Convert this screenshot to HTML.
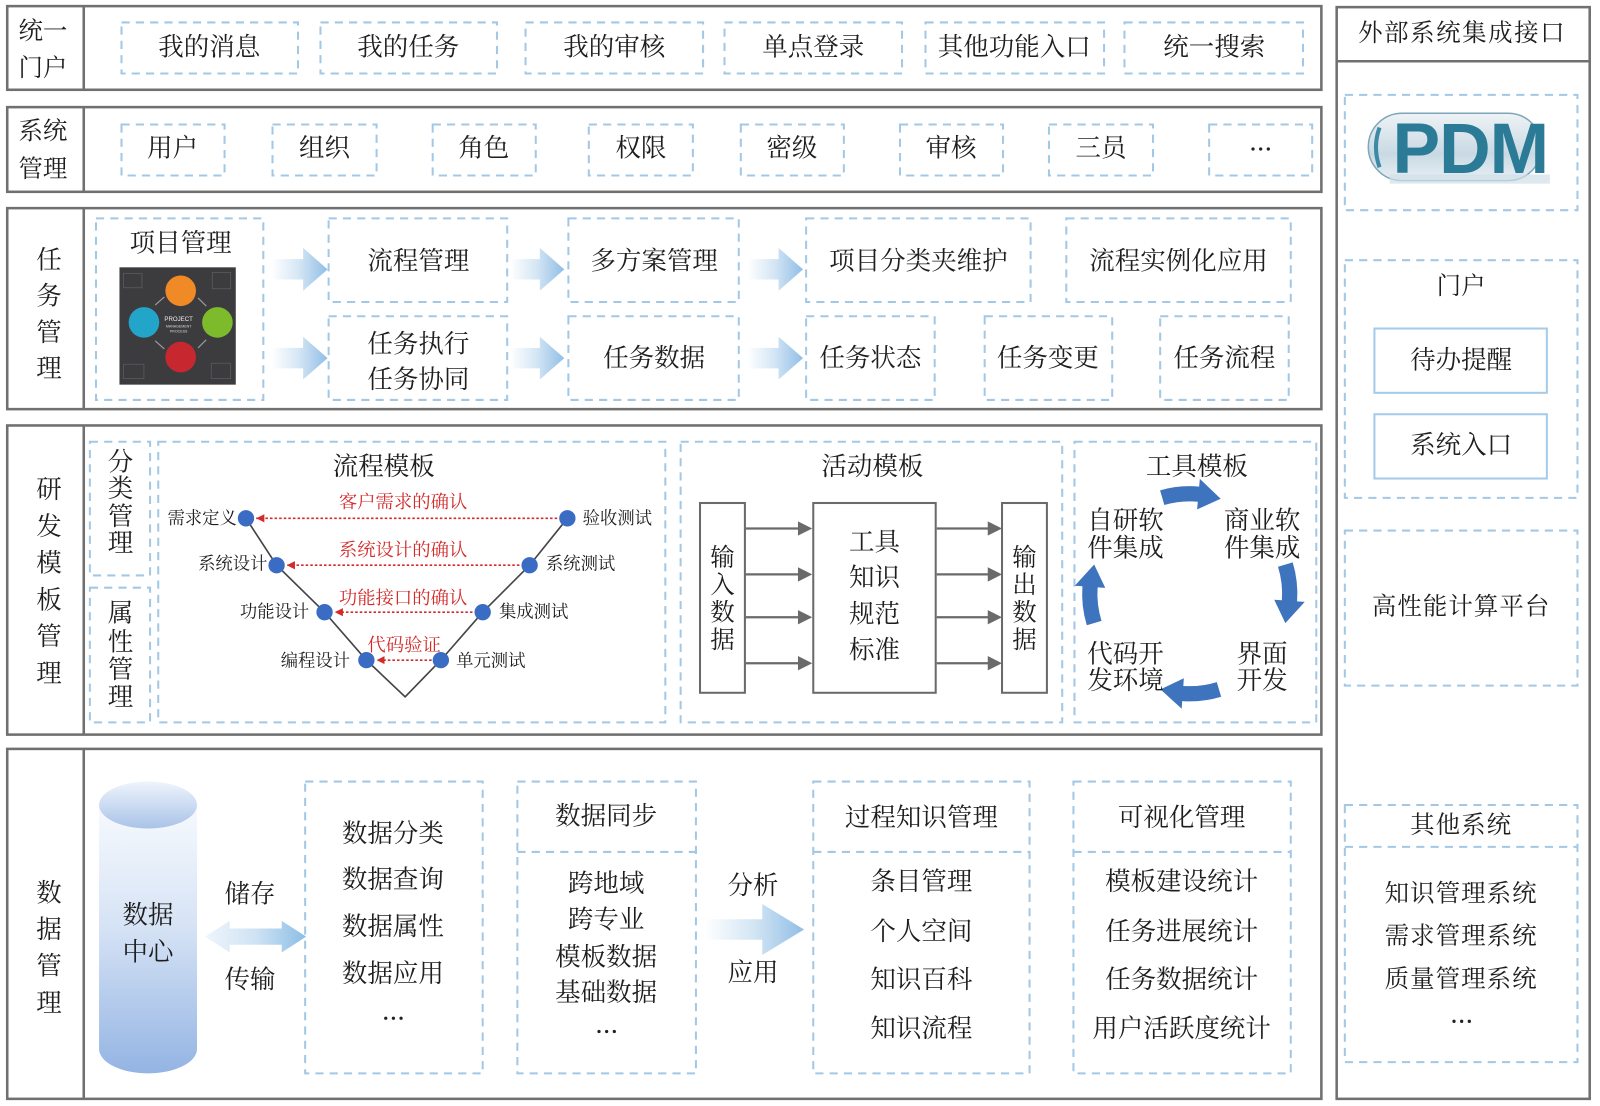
<!DOCTYPE html>
<html><head><meta charset="utf-8">
<style>
html,body{margin:0;padding:0;background:#fff;}
svg{display:block;}
text{font-family:"Liberation Serif","Noto Serif CJK SC",serif;fill:#1e1e1e;dominant-baseline:central;text-anchor:middle;}
.d{fill:none;stroke:#a3c8e6;stroke-width:2;stroke-dasharray:8 6;}
.o{fill:#fff;stroke:#707070;stroke-width:2.5;}
.t{font-size:25px;}
.s{font-size:24px;}
.v{font-size:17px;}
.r{font-size:18px;fill:#d42a2a;}
.g{fill:none;stroke:#6a6a6a;stroke-width:2;}
</style></head><body>
<svg width="1600" height="1106" viewBox="0 0 1568 1084" xmlns="http://www.w3.org/2000/svg">
<defs>
<linearGradient id="ga" x1="0" y1="0" x2="1" y2="0">
<stop offset="0" stop-color="#ffffff"/><stop offset="0.5" stop-color="#d3e5f4"/><stop offset="1" stop-color="#90bee6"/>
</linearGradient>
<linearGradient id="gb" x1="0" y1="0" x2="1" y2="0">
<stop offset="0" stop-color="#eef5fc"/><stop offset="0.5" stop-color="#cfe3f4"/><stop offset="1" stop-color="#8cbde6"/>
</linearGradient>
<linearGradient id="cyl" x1="0" y1="0" x2="0" y2="1">
<stop offset="0" stop-color="#f7fafe"/><stop offset="0.45" stop-color="#d6e3f5"/><stop offset="1" stop-color="#94b4e3"/>
</linearGradient>
<linearGradient id="cylt" x1="0" y1="0" x2="0" y2="1">
<stop offset="0" stop-color="#eef4fb"/><stop offset="1" stop-color="#a9c3e8"/>
</linearGradient>
<linearGradient id="pill" x1="0" y1="0" x2="0" y2="1">
<stop offset="0" stop-color="#eef3f6"/><stop offset="0.6" stop-color="#c9d9e3"/><stop offset="1" stop-color="#e8eff3"/>
</linearGradient>
<marker id="ra" viewBox="0 0 8 8" refX="8" refY="4" markerWidth="8" markerHeight="8" markerUnits="userSpaceOnUse" orient="auto">
<path d="M0,0 L8,4 L0,8 Z" fill="#d42a2a"/>
</marker>
</defs>

<!-- Row 1 统一门户 -->
<rect class="o" x="7" y="6" width="1288" height="82"/>
<line x1="82" y1="6" x2="82" y2="88" stroke="#707070" stroke-width="2.5"/>
<text class="s" x="42" y="31">统一</text>
<text class="s" x="42" y="67">门户</text>
<rect class="d" x="119" y="22" width="173" height="50"/>
<rect class="d" x="314" y="22" width="173" height="50"/>
<rect class="d" x="515" y="22" width="174" height="50"/>
<rect class="d" x="710" y="22" width="174" height="50"/>
<rect class="d" x="907" y="22" width="175" height="50"/>
<rect class="d" x="1102" y="22" width="175" height="50"/>
<text class="t" x="205" y="46">我的消息</text>
<text class="t" x="400" y="46">我的任务</text>
<text class="t" x="602" y="46">我的审核</text>
<text class="t" x="797" y="46">单点登录</text>
<text class="t" x="994" y="46">其他功能入口</text>
<text class="t" x="1190" y="46">统一搜索</text>

<!-- Row 2 系统管理 -->
<rect class="o" x="7" y="105" width="1288" height="83"/>
<line x1="82" y1="105" x2="82" y2="188" stroke="#707070" stroke-width="2.5"/>
<text class="s" x="42" y="129">系统</text>
<text class="s" x="42" y="166">管理</text>
<rect class="d" x="119" y="122" width="101" height="50"/>
<rect class="d" x="267" y="122" width="102" height="50"/>
<rect class="d" x="424" y="122" width="101" height="50"/>
<rect class="d" x="577" y="122" width="102" height="50"/>
<rect class="d" x="726" y="122" width="101" height="50"/>
<rect class="d" x="882" y="122" width="101" height="50"/>
<rect class="d" x="1028" y="122" width="102" height="50"/>
<rect class="d" x="1185" y="122" width="101" height="50"/>
<text class="t" x="169" y="145">用户</text>
<text class="t" x="318" y="145">组织</text>
<text class="t" x="474" y="145">角色</text>
<text class="t" x="628" y="145">权限</text>
<text class="t" x="776" y="145">密级</text>
<text class="t" x="932" y="145">审核</text>
<text class="t" x="1079" y="145">三员</text>
<g fill="#222"><circle cx="1228" cy="146" r="1.6"/><circle cx="1235.5" cy="146" r="1.6"/><circle cx="1243" cy="146" r="1.6"/></g>

<!-- Row 3 任务管理 -->
<rect class="o" x="7" y="204" width="1288" height="197"/>
<line x1="82" y1="204" x2="82" y2="401" stroke="#707070" stroke-width="2.5"/>
<text class="t" x="48" y="255">任</text>
<text class="t" x="48" y="290">务</text>
<text class="t" x="48" y="326">管</text>
<text class="t" x="48" y="361">理</text>
<rect class="d" x="94" y="214" width="164" height="178"/>
<text class="t" x="177" y="238">项目管理</text>
<!-- project image -->
<rect x="117" y="262" width="114" height="115" fill="#3c3c3f"/>
<g stroke="#5a5a5e" stroke-width="0.8" fill="none">
<rect x="121" y="268" width="18" height="14"/><rect x="208" y="267" width="18" height="16"/>
<rect x="121" y="357" width="20" height="14"/><rect x="207" y="356" width="19" height="15"/>
</g>
<g stroke="#9a9a9e" stroke-width="1.2" fill="none">
<path d="M152,299 L161,291"/><path d="M194,292 L202,300"/><path d="M202,333 L194,341"/><path d="M161,342 L152,334"/>
</g>
<circle cx="177" cy="285" r="15" fill="#ef8a26"/>
<circle cx="213" cy="316" r="15" fill="#7dbb2c"/>
<circle cx="177" cy="350" r="15" fill="#c7282f"/>
<circle cx="141" cy="316" r="15" fill="#22a5c8"/>
<text x="175" y="313" style="font-family:'Liberation Sans',sans-serif;font-size:6px;fill:#eee">PROJECT</text>
<text x="175" y="320" style="font-family:'Liberation Sans',sans-serif;font-size:3.5px;fill:#ddd">MANAGEMENT</text>
<text x="175" y="325" style="font-family:'Liberation Sans',sans-serif;font-size:3.5px;fill:#ddd">PROCESS</text>

<rect class="d" x="322" y="214" width="175" height="82"/>
<rect class="d" x="557" y="214" width="167" height="82"/>
<rect class="d" x="790" y="214" width="220" height="82"/>
<rect class="d" x="1045" y="214" width="220" height="82"/>
<text class="t" x="410" y="256">流程管理</text>
<text class="t" x="641" y="256">多方案管理</text>
<text class="t" x="900" y="256">项目分类夹维护</text>
<text class="t" x="1155" y="256">流程实例化应用</text>
<rect class="d" x="322" y="310" width="175" height="82"/>
<rect class="d" x="557" y="310" width="167" height="82"/>
<rect class="d" x="790" y="310" width="126" height="82"/>
<rect class="d" x="965" y="310" width="125" height="82"/>
<rect class="d" x="1137" y="310" width="126" height="82"/>
<text class="t" x="410" y="337">任务执行</text>
<text class="t" x="410" y="372">任务协同</text>
<text class="t" x="641" y="351">任务数据</text>
<text class="t" x="853" y="351">任务状态</text>
<text class="t" x="1027" y="351">任务变更</text>
<text class="t" x="1200" y="351">任务流程</text>
<g fill="url(#ga)">
<path d="M266,254 L297,254 L297,243 L321,264 L297,285 L297,274 L266,274 Z"/>
<path d="M500,254 L529,254 L529,243 L553,264 L529,285 L529,274 L500,274 Z"/>
<path d="M732,254 L763,254 L763,243 L787,264 L763,285 L763,274 L732,274 Z"/>
<path d="M266,341 L297,341 L297,330 L321,351 L297,372 L297,361 L266,361 Z"/>
<path d="M500,341 L529,341 L529,330 L553,351 L529,372 L529,361 L500,361 Z"/>
<path d="M732,341 L763,341 L763,330 L787,351 L763,372 L763,361 L732,361 Z"/>
</g>

<!-- Row 4 研发模板管理 -->
<rect class="o" x="7" y="417" width="1288" height="303"/>
<line x1="82" y1="417" x2="82" y2="720" stroke="#707070" stroke-width="2.5"/>
<text class="t" x="48" y="480">研</text>
<text class="t" x="48" y="516">发</text>
<text class="t" x="48" y="552">模</text>
<text class="t" x="48" y="588">板</text>
<text class="t" x="48" y="624">管</text>
<text class="t" x="48" y="660">理</text>
<rect class="d" x="88" y="433" width="59" height="131"/>
<rect class="d" x="88" y="576" width="59" height="132"/>
<text class="t" x="118" y="453">分</text>
<text class="t" x="118" y="479">类</text>
<text class="t" x="118" y="506">管</text>
<text class="t" x="118" y="532">理</text>
<text class="t" x="118" y="601">属</text>
<text class="t" x="118" y="629">性</text>
<text class="t" x="118" y="656">管</text>
<text class="t" x="118" y="683">理</text>

<rect class="d" x="155" y="433" width="497" height="275"/>
<text class="t" x="376" y="457">流程模板</text>
<polyline points="241,508 271,554 318,600 359,647 397,683 432,647 473,600 519,554 556,508" fill="none" stroke="#444" stroke-width="1.6"/>
<g stroke="#d42a2a" stroke-width="1.6" stroke-dasharray="2.5 2" fill="none" marker-end="url(#ra)">
<line x1="546" y1="508" x2="251" y2="508"/>
<line x1="509" y1="554" x2="281" y2="554"/>
<line x1="463" y1="600" x2="328" y2="600"/>
<line x1="423" y1="647" x2="369" y2="647"/>
</g>
<g fill="#3a6cc4">
<circle cx="241" cy="508" r="8"/><circle cx="271" cy="554" r="8"/><circle cx="318" cy="600" r="8"/><circle cx="359" cy="647" r="8"/>
<circle cx="432" cy="647" r="8"/><circle cx="473" cy="600" r="8"/><circle cx="519" cy="554" r="8"/><circle cx="556" cy="508" r="8"/>
</g>
<text class="r" x="395" y="492">客户需求的确认</text>
<text class="r" x="395" y="539">系统设计的确认</text>
<text class="r" x="395" y="586">功能接口的确认</text>
<text class="r" x="396" y="632">代码验证</text>
<g style="text-anchor:end">
<text class="v" x="232" y="508" style="text-anchor:end">需求定义</text>
<text class="v" x="262" y="553" style="text-anchor:end">系统设计</text>
<text class="v" x="303" y="600" style="text-anchor:end">功能设计</text>
<text class="v" x="343" y="648" style="text-anchor:end">编程设计</text>
</g>
<text class="v" x="571" y="508" style="text-anchor:start">验收测试</text>
<text class="v" x="535" y="553" style="text-anchor:start">系统测试</text>
<text class="v" x="489" y="600" style="text-anchor:start">集成测试</text>
<text class="v" x="447" y="648" style="text-anchor:start">单元测试</text>

<rect class="d" x="667" y="433" width="374" height="275"/>
<text class="t" x="855" y="457">活动模板</text>
<rect class="g" x="686" y="493" width="44" height="186"/>
<rect class="g" x="797" y="493" width="120" height="186"/>
<rect class="g" x="982" y="493" width="44" height="186"/>
<text class="s" x="708" y="547">输</text>
<text class="s" x="708" y="574">入</text>
<text class="s" x="708" y="601">数</text>
<text class="s" x="708" y="628">据</text>
<text class="s" x="1004" y="547">输</text>
<text class="s" x="1004" y="574">出</text>
<text class="s" x="1004" y="601">数</text>
<text class="s" x="1004" y="628">据</text>
<text class="t" x="857" y="531">工具</text>
<text class="t" x="857" y="566">知识</text>
<text class="t" x="857" y="602">规范</text>
<text class="t" x="857" y="637">标准</text>
<g stroke="#6a6a6a" stroke-width="2.2">
<line x1="731" y1="518" x2="784" y2="518"/><line x1="731" y1="563" x2="784" y2="563"/>
<line x1="731" y1="605" x2="784" y2="605"/><line x1="731" y1="650" x2="784" y2="650"/>
<line x1="918" y1="518" x2="970" y2="518"/><line x1="918" y1="563" x2="970" y2="563"/>
<line x1="918" y1="605" x2="970" y2="605"/><line x1="918" y1="650" x2="970" y2="650"/>
</g>
<g fill="#6a6a6a">
<path d="M782,511 L796,518 L782,525 Z"/><path d="M782,556 L796,563 L782,570 Z"/>
<path d="M782,598 L796,605 L782,612 Z"/><path d="M782,643 L796,650 L782,657 Z"/>
<path d="M968,511 L982,518 L968,525 Z"/><path d="M968,556 L982,563 L968,570 Z"/>
<path d="M968,598 L982,605 L968,612 Z"/><path d="M968,643 L982,650 L968,657 Z"/>
</g>

<rect class="d" x="1053" y="433" width="237" height="275"/>
<text class="t" x="1173" y="457">工具模板</text>
<g fill="#3e74bd">
<path d="M1136.9,480.6 A105.5,105.5 0 0 1 1175.2,476.9 L1175.9,469.4 L1196.3,488.8 L1173.2,499.3 L1173.9,491.8 A90.5,90.5 0 0 0 1141.1,495.0 Z"/>
<path d="M1266.9,551.2 A105.5,105.5 0 0 1 1271.2,589.4 L1278.7,589.9 L1259.7,610.7 L1248.8,587.8 L1256.3,588.3 A90.5,90.5 0 0 0 1252.5,555.5 Z"/>
<path d="M1196.8,682.9 A105.5,105.5 0 0 1 1158.6,687.2 L1158.1,694.7 L1137.3,675.7 L1160.2,664.8 L1159.7,672.3 A90.5,90.5 0 0 0 1192.5,668.5 Z"/>
<path d="M1065.1,612.8 A105.5,105.5 0 0 1 1060.8,574.6 L1053.3,574.1 L1072.3,553.3 L1083.2,576.2 L1075.7,575.7 A90.5,90.5 0 0 0 1079.5,608.5 Z"/>
</g>
<text class="t" x="1103" y="510">自研软</text>
<text class="t" x="1103" y="537">件集成</text>
<text class="t" x="1237" y="510">商业软</text>
<text class="t" x="1237" y="537">件集成</text>
<text class="t" x="1103" y="641">代码开</text>
<text class="t" x="1103" y="667">发环境</text>
<text class="t" x="1237" y="641">界面</text>
<text class="t" x="1237" y="667">开发</text>

<!-- Row 5 数据管理 -->
<rect class="o" x="7" y="734" width="1288" height="343"/>
<line x1="82" y1="734" x2="82" y2="1077" stroke="#707070" stroke-width="2.5"/>
<text class="t" x="48" y="875">数</text>
<text class="t" x="48" y="911">据</text>
<text class="t" x="48" y="947">管</text>
<text class="t" x="48" y="983">理</text>
<path d="M97,789 L97,1028 A48,24 0 0 0 193,1028 L193,789 Z" fill="url(#cyl)"/>
<ellipse cx="145" cy="789" rx="48" ry="23" fill="url(#cylt)"/>
<text class="t" x="145" y="897">数据</text>
<text class="t" x="145" y="933">中心</text>
<text class="t" x="245" y="876">储存</text>
<text class="t" x="245" y="960">传输</text>
<path d="M201,918 L225,902.5 L225,910 L276,910 L276,902.5 L300,918 L276,933.5 L276,926 L225,926 L225,933.5 Z" fill="url(#gb)"/>

<rect class="d" x="299" y="766" width="174" height="286"/>
<text class="t" x="385" y="817">数据分类</text>
<text class="t" x="385" y="862">数据查询</text>
<text class="t" x="385" y="908">数据属性</text>
<text class="t" x="385" y="954">数据应用</text>
<g fill="#222"><circle cx="378" cy="998" r="1.6"/><circle cx="385.5" cy="998" r="1.6"/><circle cx="393" cy="998" r="1.6"/></g>

<rect class="d" x="507" y="766" width="175" height="286"/>
<line class="d" x1="507" y1="835" x2="682" y2="835"/>
<text class="t" x="594" y="800">数据同步</text>
<text class="t" x="594" y="866">跨地域</text>
<text class="t" x="594" y="901">跨专业</text>
<text class="t" x="594" y="938">模板数据</text>
<text class="t" x="594" y="973">基础数据</text>
<g fill="#222"><circle cx="587" cy="1011" r="1.6"/><circle cx="594.5" cy="1011" r="1.6"/><circle cx="602" cy="1011" r="1.6"/></g>

<text class="t" x="738" y="868">分析</text>
<text class="t" x="738" y="953">应用</text>
<path d="M690,901 L747,901 L747,886 L788,911 L747,936 L747,921 L690,921 Z" fill="url(#ga)"/>

<rect class="d" x="797" y="766" width="212" height="286"/>
<line class="d" x1="797" y1="835" x2="1009" y2="835"/>
<text class="t" x="903" y="801">过程知识管理</text>
<text class="t" x="903" y="864">条目管理</text>
<text class="t" x="903" y="913">个人空间</text>
<text class="t" x="903" y="960">知识百科</text>
<text class="t" x="903" y="1008">知识流程</text>

<rect class="d" x="1052" y="766" width="213" height="286"/>
<line class="d" x1="1052" y1="835" x2="1265" y2="835"/>
<text class="t" x="1158" y="801">可视化管理</text>
<text class="t" x="1158" y="864">模板建设统计</text>
<text class="t" x="1158" y="913">任务进展统计</text>
<text class="t" x="1158" y="960">任务数据统计</text>
<text class="t" x="1158" y="1008">用户活跃度统计</text>

<!-- Right column -->
<rect class="o" x="1310" y="7" width="248" height="1070"/>
<line x1="1310" y1="60" x2="1558" y2="60" stroke="#707070" stroke-width="2.5"/>
<text class="s" x="1433" y="33" style="letter-spacing:1.5px">外部系统集成接口</text>

<rect class="d" x="1318" y="93" width="228" height="113"/>
<rect x="1341" y="111" width="170" height="66" rx="33" fill="url(#pill)" stroke="#7ea6b8" stroke-width="1.5"/>
<path d="M1352,125 Q1345,144 1352,164" stroke="#3c8aa6" stroke-width="4" fill="none"/>
<text x="1441" y="146" style="font-family:'Liberation Sans',sans-serif;font-weight:bold;font-size:70px;fill:#2b7b97;letter-spacing:-1px">PDM</text>
<rect x="1362" y="171" width="157" height="9" fill="#cfe0e8" opacity="0.7"/>

<rect class="d" x="1318" y="255" width="228" height="233"/>
<text class="s" x="1432" y="281">门户</text>
<rect x="1347" y="322" width="169" height="63" fill="none" stroke="#a5cbe9" stroke-width="2"/>
<rect x="1347" y="406" width="169" height="63" fill="none" stroke="#a5cbe9" stroke-width="2"/>
<text class="t" x="1432" y="353">待办提醒</text>
<text class="t" x="1432" y="436">系统入口</text>

<rect class="d" x="1318" y="520" width="228" height="152"/>
<text class="s" x="1432" y="595" style="letter-spacing:1px">高性能计算平台</text>

<rect class="d" x="1318" y="789" width="228" height="252"/>
<line class="d" x1="1318" y1="830" x2="1546" y2="830"/>
<text class="s" x="1432" y="809" style="letter-spacing:1px">其他系统</text>
<text class="s" x="1432" y="876" style="letter-spacing:1px">知识管理系统</text>
<text class="s" x="1432" y="918" style="letter-spacing:1px">需求管理系统</text>
<text class="s" x="1432" y="960" style="letter-spacing:1px">质量管理系统</text>
<g fill="#222"><circle cx="1425" cy="1001" r="1.6"/><circle cx="1432.5" cy="1001" r="1.6"/><circle cx="1440" cy="1001" r="1.6"/></g>
</svg>
</body></html>
